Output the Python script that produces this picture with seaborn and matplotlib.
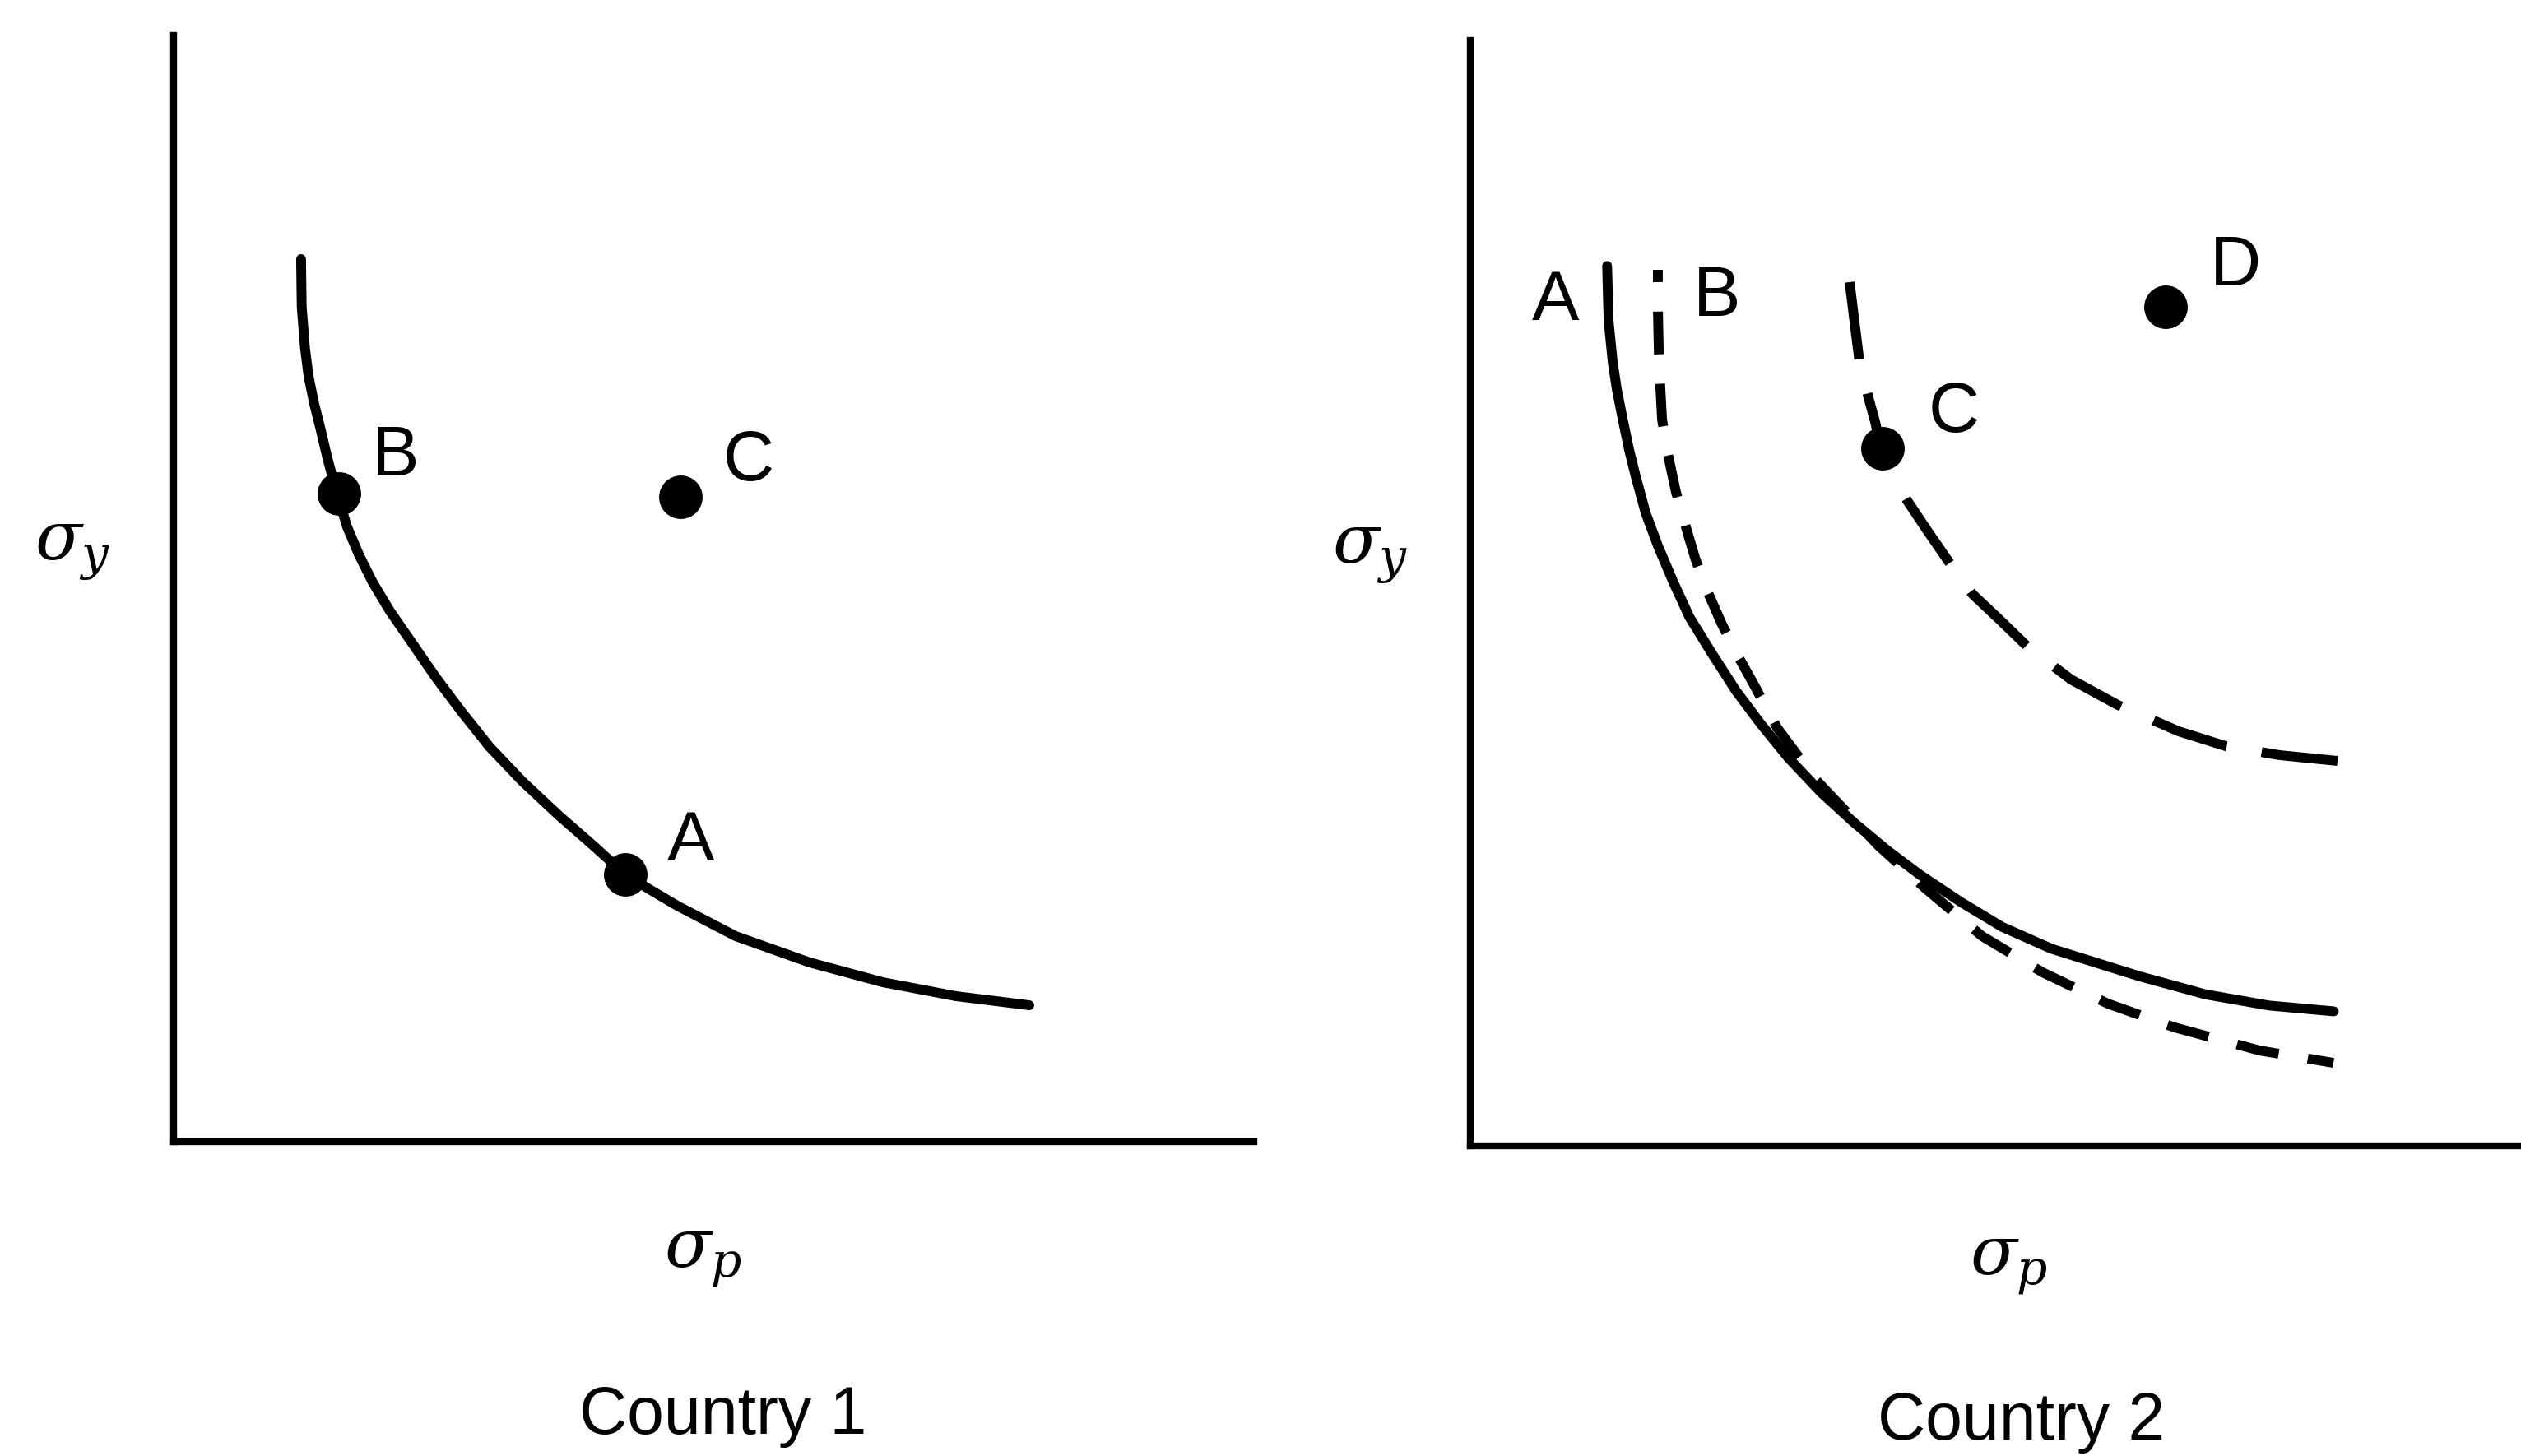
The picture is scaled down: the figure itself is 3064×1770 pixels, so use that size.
import matplotlib
matplotlib.use("Agg")
import matplotlib.pyplot as plt
import seaborn as sns

# Country 1: one solid frontier, points A and B on it, C above it
c1_x = [1.180, 1.186, 1.216, 1.249, 1.300, 1.363, 1.424, 1.516, 1.605, 1.714,
        1.843, 2.003, 2.193, 2.430, 2.658, 2.925, 3.229, 3.572, 3.877, 4.181,
        4.410, 4.661, 5.202, 5.887, 6.565, 7.243, 7.921]
c1_y = [7.978, 7.546, 7.175, 6.922, 6.677, 6.431, 6.178, 5.844, 5.561, 5.309,
        5.056, 4.796, 4.528, 4.193, 3.896, 3.569, 3.257, 2.944, 2.684, 2.416,
        2.279, 2.134, 1.859, 1.621, 1.442, 1.316, 1.234]
c1_pts = ["B", "A", "C"]
c1_pts_x = [1.53, 4.18, 4.69]
c1_pts_y = [5.86, 2.42, 5.83]
c1_lab_x = [2.05, 4.79, 5.32]
c1_lab_y = [6.02, 2.54, 5.98]

# Country 2: frontier A (solid), B (short dashes), C (long dashes), point D
a2_x = [1.302, 1.316, 1.355, 1.394, 1.446, 1.511, 1.576, 1.668, 1.785, 1.929,
        2.085, 2.294, 2.529, 2.764, 3.025, 3.338, 3.652, 3.965, 4.278, 4.670,
        5.061, 5.531, 6.366, 7.000, 7.600, 8.218]
a2_y = [7.959, 7.463, 7.091, 6.845, 6.594, 6.297, 6.049, 5.727, 5.429, 5.106,
        4.784, 4.462, 4.115, 3.817, 3.512, 3.197, 2.924, 2.676, 2.453, 2.205,
        1.981, 1.783, 1.535, 1.370, 1.270, 1.217]
b2_x = [1.785, 1.785, 1.793, 1.805, 1.825, 1.877, 1.955, 2.034, 2.138, 2.247,
        2.388, 2.545, 2.702, 2.921, 3.289, 3.884, 4.331, 4.871, 5.446, 6.067,
        6.706, 7.510, 8.215]
b2_y = [7.924, 7.589, 7.217, 6.920, 6.570, 6.272, 5.923, 5.655, 5.320, 5.037,
        4.732, 4.435, 4.167, 3.780, 3.311, 2.716, 2.329, 1.897, 1.570, 1.287,
        1.071, 0.863, 0.751]
cc2_x = [3.610, 3.657, 3.704, 3.782, 3.853, 3.915, 4.017, 4.150, 4.354, 4.565,
         4.777, 5.035, 5.294, 5.716, 6.163, 6.742, 7.189, 7.706, 8.254]
cc2_y = [7.813, 7.448, 7.091, 6.793, 6.548, 6.295, 6.064, 5.848, 5.558, 5.268,
         4.993, 4.762, 4.524, 4.219, 3.988, 3.750, 3.616, 3.534, 3.482]
c2_pts = ["C", "D"]
c2_pts_x = [3.92, 6.62]
c2_pts_y = [6.31, 7.59]
c2_lab = ["A", "B", "C", "D"]
c2_lab_x = [0.81, 2.35, 4.60, 7.28]
c2_lab_y = [7.47, 7.51, 6.46, 7.78]

sns.set_style("white")
plt.rcParams["font.family"] = ["Liberation Sans", "DejaVu Sans"]
plt.rcParams["text.color"] = "black"
plt.rcParams["mathtext.fontset"] = "dejavuserif"

LW = 8.6
fig = plt.figure(figsize=(30.64, 17.70), dpi=100)
ax1 = fig.add_axes([0.06886, 0.21582, 0.42852, 0.75989])
ax2 = fig.add_axes([0.58323, 0.21299, 0.41678, 0.75932])

for ax in (ax1, ax2):
    ax.set_xlim(0, 10)
    ax.set_ylim(0, 10)
    ax.set_xticks([])
    ax.set_yticks([])
    for side in ("top", "right"):
        ax.spines[side].set_visible(False)
    for side in ("left", "bottom"):
        ax.spines[side].set_linewidth(6)
        ax.spines[side].set_color("black")
        ax.spines[side].set_capstyle("projecting")

# left panel
sns.lineplot(x=c1_x, y=c1_y, sort=False, estimator=None, color="black",
             linewidth=LW, ax=ax1)
ax1.lines[-1].set_solid_joinstyle("round")
sns.scatterplot(x=c1_pts_x, y=c1_pts_y, s=1450, color="black", linewidth=0,
                ax=ax1, zorder=5)
for lab, x, y in zip(c1_pts, c1_lab_x, c1_lab_y):
    ax1.text(x, y, lab, ha="center", va="baseline", fontsize=62)

# right panel
sns.lineplot(x=a2_x, y=a2_y, sort=False, estimator=None, color="black",
             linewidth=LW, ax=ax2)
ax2.lines[-1].set_solid_joinstyle("round")
sns.lineplot(x=b2_x, y=b2_y, sort=False, estimator=None, color="black",
             linewidth=LW, ax=ax2)
ax2.lines[-1].set_linestyle((3.1, (4.35, 3.0)))
sns.lineplot(x=cc2_x, y=cc2_y, sort=False, estimator=None, color="black",
             linewidth=LW, ax=ax2)
ax2.lines[-1].set_linestyle((0, (7.9, 3.6)))
sns.scatterplot(x=c2_pts_x, y=c2_pts_y, s=1450, color="black", linewidth=0,
                ax=ax2, zorder=5)
for lab, x, y in zip(c2_lab, c2_lab_x, c2_lab_y):
    ax2.text(x, y, lab, ha="center", va="baseline", fontsize=62)

# axis labels and panel titles
sig_kw = dict(ha="center", va="center", fontsize=60)
fig.text(0.0287, 0.6215, r"$\sigma_y$", **sig_kw)
fig.text(0.5434, 0.6190, r"$\sigma_y$", **sig_kw)
fig.text(0.2790, 0.1356, r"$\sigma_p$", **sig_kw)
fig.text(0.7967, 0.1305, r"$\sigma_p$", **sig_kw)

fig.text(0.2866, 0.0153, "Country 1", ha="center", va="baseline", fontsize=58)
fig.text(0.8016, 0.0113, "Country 2", ha="center", va="baseline", fontsize=58)

fig.savefig("out.png", dpi=100, facecolor="white")
